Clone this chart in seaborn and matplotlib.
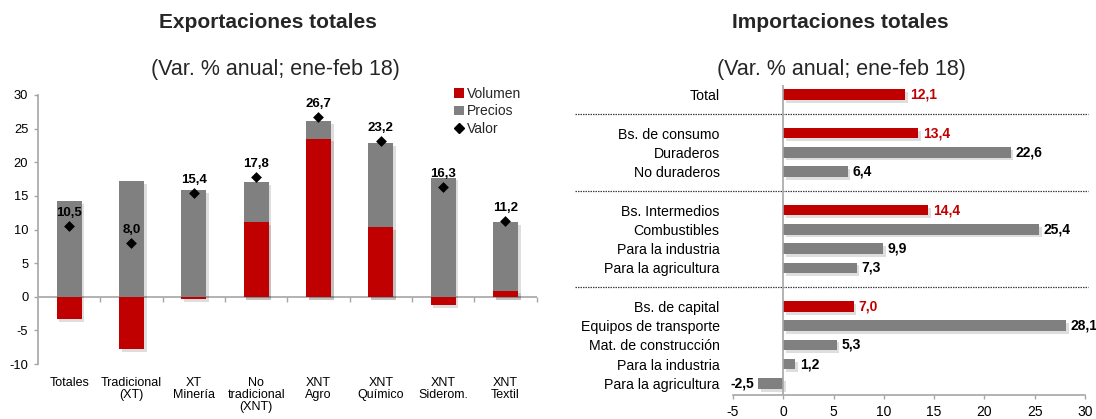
import numpy as np
import pandas as pd
import matplotlib
matplotlib.use("Agg")
import matplotlib.pyplot as plt
import matplotlib.patheffects as pe
from matplotlib.patches import Patch
from matplotlib.lines import Line2D
import seaborn as sns

# ---------------- Data ----------------
exp_categories = ["Totales", "Tradicional\n(XT)", "XT\nMinería", "No\ntradicional\n(XNT)",
                  "XNT\nAgro", "XNT\nQuímico", "XNT\nSiderom.", "XNT\nTextil"]
exp_volumen = [-3.3, -7.8, -0.3, 11.1, 23.5, 10.4, -1.2, 0.9]
exp_precios = [14.2, 17.2, 15.8, 6.0, 2.6, 12.5, 17.7, 10.2]
exp_valor = [10.5, 8.0, 15.4, 17.8, 26.7, 23.2, 16.3, 11.2]

imp_labels = ["Total", "Bs. de consumo", "Duraderos", "No duraderos",
              "Bs. Intermedios", "Combustibles", "Para la industria", "Para la agricultura",
              "Bs. de capital", "Equipos de transporte", "Mat. de construcción",
              "Para la industria", "Para la agricultura"]
imp_values = [12.1, 13.4, 22.6, 6.4, 14.4, 25.4, 9.9, 7.3, 7.0, 28.1, 5.3, 1.2, -2.5]
imp_aggregate = [True, True, False, False, True, False, False, False,
                 True, False, False, False, False]

legend_labels = ["Volumen", "Precios", "Valor"]

# ---------------- Style ----------------
sns.set_theme(style="white")
plt.rcParams['font.family'] = ['Liberation Sans', 'DejaVu Sans']
plt.rcParams['axes.unicode_minus'] = False

RED = "#C00000"
GRAY = "#808080"
AXIS = "#A6A6A6"

W, H = 1096, 419
fig = plt.figure(figsize=(W / 100, H / 100), dpi=100)
ax1 = fig.add_axes([38 / W, (H - 364) / H, (536.6 - 38) / W, (364 - 95) / H])
ax2 = fig.add_axes([733 / W, (H - 395) / H, (1085 - 733) / W, (395 - 85) / H])

def fmt(v):
    return f"{v:.1f}".replace(".", ",")

shadow = [pe.SimplePatchShadow(offset=(2, -2), shadow_rgbFace="black", alpha=0.13), pe.Normal()]

# ---------------- Left: Exportaciones ----------------
df_exp = pd.DataFrame({"cat": exp_categories, "vol": exp_volumen,
                       "pre": exp_precios, "val": exp_valor})
df_exp["gray_top"] = df_exp["pre"] + df_exp["vol"].clip(lower=0)

ax1.axhline(0, color=AXIS, lw=1.2, zorder=0.5)
sns.barplot(data=df_exp, x="cat", y="gray_top", color=GRAY, width=0.4, saturation=1,
            errorbar=None, ax=ax1)
sns.barplot(data=df_exp, x="cat", y="vol", color=RED, width=0.4, saturation=1,
            errorbar=None, ax=ax1)
for p in ax1.patches:
    p.set_linewidth(0)
    p.set_path_effects(shadow)
sns.stripplot(data=df_exp, x="cat", y="val", marker="D", color="black", size=5.5,
              jitter=False, ax=ax1, zorder=5)

for i, v in enumerate(exp_valor):
    ax1.annotate(fmt(v), (i, v), xytext=(0, 5), textcoords="offset points",
                 ha="center", va="bottom", fontsize=9.5, fontweight="bold", color="black")

n = len(exp_categories)
ax1.plot(np.arange(0.5, n, 1), np.zeros(n), linestyle="none", marker=3,
         markersize=3.5, color=AXIS, markeredgewidth=1, clip_on=False, zorder=0.6)

ax1.set_xlim(-0.5, n - 0.5)
ax1.set_ylim(-10, 30)
ax1.set_yticks(range(-10, 31, 5))
ax1.set_xlabel("")
ax1.set_ylabel("")
for s in ["top", "right", "bottom"]:
    ax1.spines[s].set_visible(False)
ax1.spines["left"].set_color(AXIS)
ax1.spines["left"].set_linewidth(1.2)
ax1.tick_params(axis="y", left=True, length=3, width=1, color=AXIS, labelsize=9.3,
                pad=4, labelcolor="black")
ax1.tick_params(axis="x", bottom=False, length=0, labelsize=9, pad=9, labelcolor="black")
for t in ax1.get_xticklabels():
    t.set_linespacing(1.05)
    t.set_va("top")

handles = [Patch(facecolor=RED, edgecolor="none"),
           Patch(facecolor=GRAY, edgecolor="none"),
           Line2D([], [], marker="D", color="black", linestyle="none", markersize=5)]
ax1.legend(handles, legend_labels, loc="upper left", bbox_to_anchor=(447 / W, 1 - 80 / H),
           bbox_transform=fig.transFigure, frameon=False, fontsize=10, borderpad=0,
           handlelength=0.7, handleheight=0.7, handletextpad=0.25, labelspacing=0.25)

# ---------------- Right: Importaciones ----------------
pos = []
p_ = 0
for i, agg in enumerate(imp_aggregate):
    if agg and i > 0:
        p_ += 1
    pos.append(p_)
    p_ += 1
gaps = [pos[i] - 1 for i, agg in enumerate(imp_aggregate) if agg and i > 0]

df_imp = pd.DataFrame({"pos": pos, "val": imp_values,
                       "kind": ["agg" if a else "sub" for a in imp_aggregate]})
sns.barplot(data=df_imp, x="val", y="pos", hue="kind", palette={"agg": RED, "sub": GRAY},
            orient="y", native_scale=True, dodge=False, width=0.55, saturation=1,
            errorbar=None, legend=False, ax=ax2)
for p in ax2.patches:
    p.set_linewidth(0)
    p.set_path_effects(shadow)

for y, v, agg in zip(pos, imp_values, imp_aggregate):
    off = 3.5 if v >= 0 else -2.5
    ax2.annotate(fmt(v), (v, y), xytext=(off, 0), textcoords="offset points",
                 ha="left" if v >= 0 else "right", va="center", fontsize=10,
                 fontweight="bold", color=RED if agg else "black")

for g in gaps:
    ax2.axhline(g, xmin=(575 - 733) / (1085 - 733), xmax=(1088 - 733) / (1085 - 733),
                clip_on=False, color="#404040", lw=0.9, linestyle=(0, (1.2, 0.8)))

ax2.axvline(0, color=AXIS, lw=1.2, zorder=3)
ax2.set_xlim(-5, 30)
ax2.set_ylim(pos[-1] + 0.6, -0.5)
ax2.set_xticks(range(-5, 31, 5))
ax2.set_yticks(pos)
ax2.set_yticklabels(imp_labels)
ax2.set_xlabel("")
ax2.set_ylabel("")
for s in ["top", "right", "left"]:
    ax2.spines[s].set_visible(False)
ax2.spines["bottom"].set_color(AXIS)
ax2.spines["bottom"].set_linewidth(1.2)
ax2.tick_params(axis="y", left=False, length=0, labelsize=10.2, pad=9.6, labelcolor="black")
ax2.tick_params(axis="x", bottom=True, length=3, width=1, color=AXIS, labelsize=10,
                pad=4, labelcolor="black")

# ---------------- Titles ----------------
fig.text(268 / W, 1 - 22 / H, "Exportaciones totales", ha="center", va="center",
         fontsize=15, fontweight="bold")
fig.text(275 / W, 1 - 70 / H, "(Var. % anual; ene-feb 18)", ha="center", va="center",
         fontsize=15.5)
fig.text(840 / W, 1 - 22 / H, "Importaciones totales", ha="center", va="center",
         fontsize=15, fontweight="bold")
fig.text(841 / W, 1 - 70 / H, "(Var. % anual; ene-feb 18)", ha="center", va="center",
         fontsize=15.5)

fig.savefig("out.png", dpi=100)
